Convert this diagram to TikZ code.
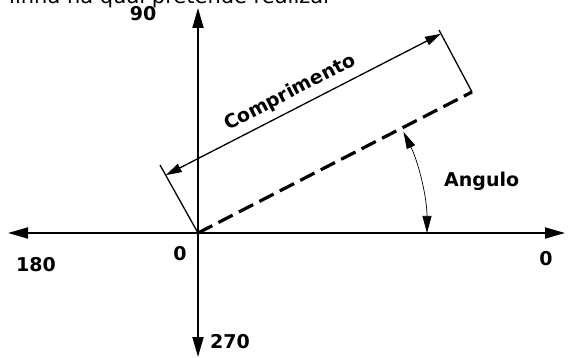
\documentclass[tikz,border=0pt]{standalone}
\usepackage{fontspec}
\setmainfont{DejaVu Sans}
\usetikzlibrary{arrows.meta,calc}
\begin{document}
\begin{tikzpicture}[x=1pt,y=-1pt,
  axis/.style={line width=1.8pt,-{Triangle[length=20pt,width=11pt]}},
  dimline/.style={line width=1.3pt},
  dimarrow/.style={line width=1.3pt,{Triangle[length=16pt,width=9pt]}-{Triangle[length=16pt,width=9pt]}},
  anglearc/.style={line width=0.7pt,{Triangle[length=17pt,width=9pt]}-{Triangle[length=17pt,width=9pt]}},
  lbl/.style={font=\fontsize{19}{21}\selectfont\bfseries, inner sep=0pt},
  dashline/.style={line width=3.2pt,dash pattern=on 16pt off 7pt}]
\useasboundingbox (0,0) rectangle (568,358);
\clip (0,0) rectangle (568,358);
% top cut text
\node[font=\fontsize{21}{24}\selectfont, anchor=base west, inner sep=0pt] (top) at (9,3.5) {linha na qual pretende realizar};
% coordinates
\coordinate (O) at (198,233);
\coordinate (W) at (8,233);
\coordinate (Ea) at (565,233);
\coordinate (N) at (198,8);
\coordinate (S) at (198,357);
\coordinate (D) at (472,92);
\coordinate (L) at (160,165);
\coordinate (R) at (439,30);
\coordinate (A1) at ($(O)!0.85!(L)$);
\coordinate (A2) at ($(D)!0.94!(R)$);
\coordinate (B0) at (427,233);
% axes
\draw[axis] (O) -- (W);
\draw[axis] (O) -- (Ea);
\draw[axis] (O) -- (N);
\draw[axis] (O) -- (S);
% dashed line
\draw[dashline] (O) -- (D);
% extension lines
\draw[dimline] (O) -- (L);
\draw[dimline] (D) -- (R);
% dimension arrow
\draw[dimarrow] (A1) -- (A2);
% angle arc
\draw[anglearc] (B0) arc[start angle=0,end angle=26.2,radius=229pt];
% labels
\node[lbl] (l90) at (143,14) {90};
\node[lbl] (l0c) at (180,254) {0};
\node[lbl] (l180) at (36,265) {180};
\node[lbl] (l0r) at (546,259) {0};
\node[lbl] (l270) at (230,342) {270};
\node[lbl, anchor=base west] (lang) at (444,187) {Angulo};
\node[lbl, rotate=27.15] (lcomp) at (290,93) {Comprimento};
\end{tikzpicture}
\end{document}
